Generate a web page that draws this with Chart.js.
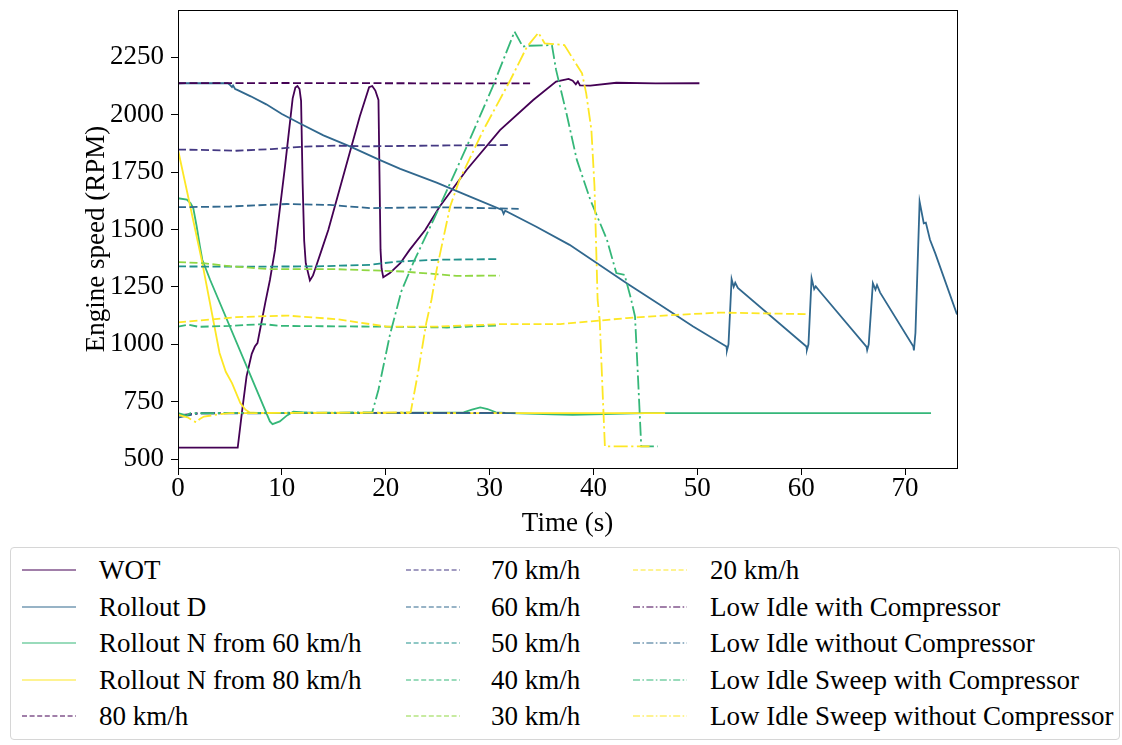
<!DOCTYPE html>
<html>
<head>
<meta charset="utf-8">
<script src="https://cdn.jsdelivr.net/npm/chart.js@4.4.1/dist/chart.umd.min.js"></script>
<style>
  body { margin: 0; background: #fff; font-family: "Liberation Serif", "Times New Roman", serif; }
  #wrap { position: relative; width: 1122px; height: 745px; overflow: hidden; }
  #chart { position: absolute; left: 0; top: 0; }
  #legend { position: absolute; left: 10px; top: 547px; width: 1110px; height: 193px;
            border: 1px solid #d6d6d6; border-radius: 4px; box-sizing: border-box; }
  .item { position: absolute; height: 32px; }
  .item svg { position: absolute; left: 0; top: 0; }
  .item span { position: absolute; top: 0; line-height: 32px; font-size: 27px; color: #000; white-space: nowrap; }
</style>
</head>
<body>
<div id="wrap">
  <canvas id="chart" width="975" height="545"></canvas>
  <div id="legend"></div>
</div>
<script>
// series labels, colours and line styles
const seriesNames = ['WOT', 'Rollout D', 'Rollout N from 60 km/h', 'Rollout N from 80 km/h',
  '80 km/h', '70 km/h', '60 km/h', '50 km/h', '40 km/h', '30 km/h', '20 km/h',
  'Low Idle with Compressor', 'Low Idle without Compressor',
  'Low Idle Sweep with Compressor', 'Low Idle Sweep without Compressor'];
const seriesColors = ['#440154', '#31688e', '#35b779', '#fde725',
  '#440154', '#443983', '#31688e', '#21918c', '#35b779', '#90d743', '#fde725',
  '#440154', '#31688e', '#35b779', '#fde725'];
const seriesStyles = ['solid', 'solid', 'solid', 'solid',
  'dash', 'dash', 'dash', 'dash', 'dash', 'dash', 'dash',
  'dashdot', 'dashdot', 'dashdot', 'dashdot'];

const xTicks = [0, 10, 20, 30, 40, 50, 60, 70];
const yTicks = [500, 750, 1000, 1250, 1500, 1750, 2000, 2250];

// [time s, rpm]
const wot = [[0,550],[5.75,550],[6.2,720],[6.6,860],[7.1,958],[7.4,990],[7.65,1005],[7.9,1063],[8.4,1180],
  [8.85,1280],[9.34,1411],[9.56,1498],[10.3,1774],[11.04,2071],[11.3,2118],[11.5,2125],[11.7,2112],[11.85,2060],
  [12.0,1700],[12.15,1450],[12.3,1353],[12.7,1278],[13.0,1300],[13.3,1340],[13.83,1411],[14.47,1498],[17.5,1992],
  [18.4,2120],[18.7,2125],[19.0,2105],[19.3,2064],[19.5,1411],[19.6,1330],[19.76,1292],[20.4,1310],[21.4,1353],
  [22.3,1411],[23.8,1498],[25.2,1600],[27.8,1760],[31.0,1933],[34.2,2064],[36.4,2144],[37.6,2156],[38.0,2148],
  [38.3,2132],[38.5,2145],[38.7,2128],[39.7,2127],[42.2,2139],[46,2136],[50.2,2137]];
const rolloutD = [[0,2137],[4.8,2137],[5.0,2130],[5.2,2120],[5.3,2127],[5.5,2112],[5.7,2108],[7,2080],[8.5,2045],
  [10,2003],[11.7,1963],[14,1910],[16.6,1861],[19.4,1803],[21.4,1764],[24.9,1704],[28,1645],[31.2,1585],
  [31.35,1568],[31.5,1582],[34.5,1512],[37.7,1433],[43.2,1266],[46.4,1172],[49.6,1077],[52.8,990],[52.85,973],
  [53.0,1000],[53.3,1284],[53.5,1250],[53.65,1268],[53.9,1245],[60.5,990],[60.55,976],[60.7,1000],[61.0,1288],
  [61.25,1240],[61.4,1252],[61.8,1230],[66.3,988],[66.35,975],[66.5,1000],[66.9,1266],[67.15,1238],[67.3,1258],
  [67.6,1225],[70.8,990],[70.85,973],[71.0,1050],[71.4,1621],[71.8,1527],[72.0,1530],[72.4,1455],[72.9,1397],[75,1130]];
const rolloutN60 = [[0,1636],[0.85,1630],[1.2,1615],[1.47,1593],[1.8,1513],[2.1,1430],[2.34,1368],[3.1,1280],
  [8.85,664],[9.1,652],[9.8,664],[10.5,690],[11.1,706],[12,703],[14,700],[27.5,703],[28.3,715],[29.1,725],
  [29.8,718],[30.6,703],[32,700],[36,695],[38,692],[40,695],[45,700],[72.5,700]];
const rolloutN80 = [[0,1847],[0.85,1670],[2.28,1368],[4.0,962],[4.6,880],[5.2,831],[6.0,744],[6.5,715],[6.9,703],
  [8,700],[46.9,700]];
const kmh80 = [[0,2137],[10,2138],[20,2137],[33.9,2136]];
const kmh70 = [[0,1848],[3,1846],[5.6,1843],[9,1850],[12.1,1861],[15.3,1865],[18,1862],[21.7,1864],[26,1866],[31.8,1868]];
const kmh60 = [[0,1597],[5,1600],[10.5,1611],[14.6,1607],[18.5,1593],[24.9,1597],[32.8,1590]];
const kmh50 = [[0,1339],[5,1338],[13,1339],[18.5,1346],[21,1360],[24.9,1368],[30.8,1371]];
const kmh40 = [[0,1077],[1,1085],[2,1076],[5,1080],[8.2,1088],[9.8,1080],[18.5,1077],[23,1075],[25.9,1073],[30.8,1082]];
const kmh30 = [[0,1358],[2.4,1353],[5,1340],[8.85,1327],[15.3,1327],[21.7,1317],[26.8,1298],[31,1299]];
const kmh20 = [[0,1095],[5.6,1118],[10.5,1125],[15.3,1109],[20.1,1077],[24.9,1077],[31.3,1088],[36.8,1088],
  [43.2,1114],[48,1128],[52.2,1138],[60.7,1131]];
const idleComp = [[0,690],[1,695],[2,700],[10,700],[20,700],[31.5,700]];
const idleNoComp = [[0,680],[1,690],[2,698],[10,700],[20,700],[32.5,700]];
const sweepComp = [[0,700],[0.8,690],[1.2,700],[18.7,703],[19.3,802],[20.4,1040],[21.5,1230],[22.7,1360],
  [24.6,1542],[27.8,1861],[30.3,2122],[32.4,2362],[33.2,2296],[33.5,2300],[36.0,2303],[36.4,2195],[37.4,2006],
  [38.4,1803],[39.7,1629],[41.3,1455],[42.2,1310],[43.0,1302],[43.6,1200],[44.0,1121],[44.3,845],[44.6,555],[46.2,555]];
const sweepNoComp = [[0,693],[1.0,680],[1.5,665],[1.8,660],[2.1,675],[2.5,685],[4,695],[5,700],[22.4,703],
  [23.1,874],[23.9,1092],[24.4,1193],[24.9,1324],[26.2,1600],[27.1,1716],[29.4,1933],[32.0,2151],[33.6,2296],
  [34.7,2357],[35.3,2311],[37.2,2303],[38.9,2180],[39.3,2093],[39.8,1934],[40.1,1687],[40.4,1193],[40.6,1106],
  [40.9,772],[41.1,555],[45.4,555]];

const seriesData = [wot, rolloutD, rolloutN60, rolloutN80, kmh80, kmh70, kmh60, kmh50, kmh40, kmh30, kmh20,
  idleComp, idleNoComp, sweepComp, sweepNoComp];

const dashes = { solid: [], dash: [8, 3.5], dashdot: [14, 3.5, 2.2, 3.5] };
const legendDashes = { solid: '', dash: '5 2.6', dashdot: '7 2.4 1.6 2.4' };
const font = { family: '"Liberation Serif", "Times New Roman", serif', size: 27 };

const datasets = seriesData.map((pts, i) => ({
  label: seriesNames[i],
  data: pts.map(p => ({ x: p[0], y: p[1] })),
  borderColor: seriesColors[i],
  borderWidth: 1.8,
  borderDash: dashes[seriesStyles[i]],
  pointRadius: 0,
  fill: false,
  tension: 0,
  order: -i
}));

// full box frame like matplotlib spines
const frame = {
  id: 'frame',
  afterDraw(chart) {
    const a = chart.chartArea, ctx = chart.ctx;
    ctx.save();
    ctx.strokeStyle = '#000';
    ctx.lineWidth = 1;
    ctx.strokeRect(a.left + 0.5, a.top + 0.5, a.right - a.left, a.bottom - a.top);
    ctx.restore();
  }
};

const chart = new Chart(document.getElementById('chart'), {
  type: 'line',
  data: { datasets },
  plugins: [frame],
  options: {
    responsive: false,
    animation: false,
    layout: { padding: { left: 0, right: 18, top: 10, bottom: 0 } },
    plugins: { legend: { display: false }, tooltip: { enabled: false } },
    scales: {
      x: {
        type: 'linear', min: 0, max: 75,
        afterFit: s => { s.height = 77; s.paddingLeft = 0; s.paddingRight = 0; },
        afterBuildTicks: s => { s.ticks = xTicks.map(v => ({ value: v })); },
        ticks: { color: '#000', font, padding: -2, maxRotation: 0, callback: v => String(v) },
        grid: { drawOnChartArea: false, drawTicks: true, tickLength: 7, color: '#000', lineWidth: 1 },
        border: { display: true, color: '#000', width: 1 },
        title: { display: true, text: 'Time (s)', color: '#000', font, padding: { top: 0, bottom: 5 } }
      },
      y: {
        type: 'linear', min: 461, max: 2456,
        afterFit: s => { s.width = 178; s.paddingTop = 0; s.paddingBottom = 0; },
        afterBuildTicks: s => { s.ticks = yTicks.map(v => ({ value: v })); },
        ticks: { color: '#000', font, padding: 7, callback: v => String(v) },
        grid: { drawOnChartArea: false, drawTicks: true, tickLength: 7, color: '#000', lineWidth: 1 },
        border: { display: true, color: '#000', width: 1 },
        title: { display: true, text: 'Engine speed (RPM)', color: '#000', font, padding: { top: 81, bottom: 0 } }
      }
    }
  }
});

// legend laid out in three columns, filled column by column
const legendEl = document.getElementById('legend');
const colLine = [11, 395, 622];
const colText = [88, 480, 699];
chart.data.datasets.forEach((ds, i) => {
  const col = Math.floor(i / 5), row = i % 5;
  const item = document.createElement('div');
  item.className = 'item';
  item.style.left = colLine[col] + 'px';
  item.style.top = (6 + row * 36.5) + 'px';
  const style = seriesStyles[i];
  item.innerHTML =
    '<svg width="60" height="32"><line x1="0" y1="16" x2="54" y2="16" stroke="' + ds.borderColor +
    '" stroke-width="1.2"' + (legendDashes[style] ? ' stroke-dasharray="' + legendDashes[style] + '"' : '') +
    '/></svg><span style="left:' + (colText[col] - colLine[col]) + 'px">' + ds.label + '</span>';
  legendEl.appendChild(item);
});
</script>
</body>
</html>
